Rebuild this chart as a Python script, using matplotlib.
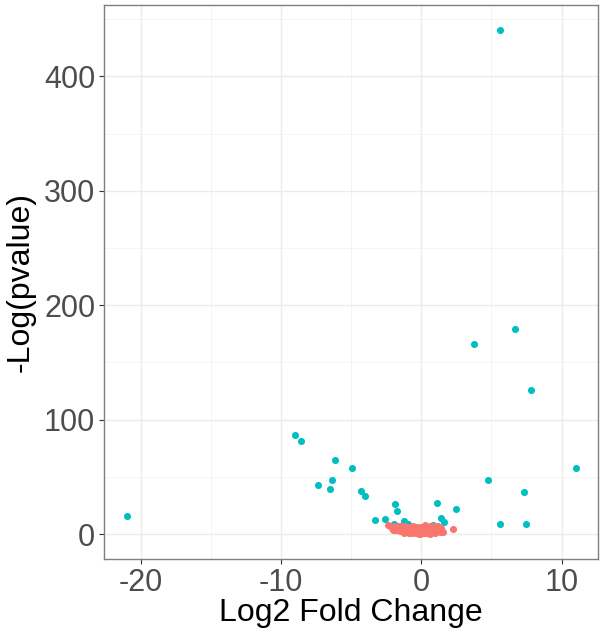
import matplotlib
matplotlib.use("Agg")
import matplotlib.pyplot as plt
from matplotlib.ticker import MultipleLocator

# significant genes (teal) and the non-significant cloud around zero (salmon)
sig_lfc = [5.60, 3.76, 6.67, 7.80, 11.00, 4.75, 7.30, 5.60, 7.45, -21.00,
           -9.00, -8.56, -6.12, -4.97, -7.38, -6.33, -6.50, -4.33, -4.04,
           -3.31, -2.60, -1.89, -1.73, -1.93, -1.21, -0.97, 0.83, 1.09,
           1.39, 1.61, 2.50]
sig_p = [440.6, 165.7, 179.5, 126.0, 58.0, 47.0, 37.0, 9.0, 9.0, 16.0,
         86.9, 81.0, 64.6, 57.4, 42.8, 47.2, 39.3, 37.8, 33.5,
         12.0, 13.4, 26.5, 20.4, 8.4, 11.0, 8.7, 8.1, 26.8,
         14.3, 10.8, 21.6]

ns_lfc = [-2.36, -2.15, -1.95, -1.90, -1.75, -1.70, -1.60, -1.55, -1.50, -1.42,
          -1.38, -1.30, -1.25, -1.20, -1.15, -1.10, -1.05, -1.00, -0.95, -0.90,
          -0.86, -0.80, -0.76, -0.70, -0.66, -0.62, -0.58, -0.52, -0.48, -0.44,
          -0.40, -0.36, -0.32, -0.27, -0.22, -0.18, -0.14, -0.10, -0.06, -0.02,
          0.02, 0.06, 0.10, 0.14, 0.18, 0.22, 0.26, 0.30, 0.35, 0.40,
          0.44, 0.48, 0.52, 0.56, 0.60, 0.65, 0.70, 0.74, 0.78, 0.82,
          0.87, 0.92, 0.96, 1.00, 1.05, 1.10, 1.15, 1.20, 1.28, 1.35,
          1.40, 1.48, 1.55, 2.27, -1.85, -2.00, -0.30, 0.00, -0.60, 0.30,
          1.00, -1.20, 0.60, -0.90]
ns_p = [7.9, 6.5, 7.2, 4.8, 5.9, 3.9, 6.8, 2.9, 5.1, 7.4,
        3.6, 5.8, 2.2, 4.4, 6.9, 3.1, 1.6, 5.2, 2.6, 4.0,
        6.1, 1.9, 3.3, 5.0, 0.9, 2.4, 4.3, 1.4, 3.0, 5.6,
        0.6, 2.0, 3.7, 1.1, 2.7, 0.4, 1.7, 3.4, 0.2, 1.3,
        2.4, 0.5, 1.8, 4.1, 0.8, 2.9, 5.3, 1.2, 3.5, 0.7,
        2.2, 6.0, 1.5, 4.6, 2.8, 6.8, 1.9, 3.9, 5.7, 2.5,
        7.3, 4.2, 1.8, 6.2, 3.2, 5.0, 2.3, 7.0, 4.1, 2.1,
        5.5, 3.0, 1.4, 4.4, 3.2, 3.4, 6.4, 5.9, 7.0, 7.6,
        0.9, 0.9, 0.3, 0.5]

plt.rcParams["font.family"] = ["Liberation Sans", "DejaVu Sans"]
plt.rcParams["axes.unicode_minus"] = False

fig = plt.figure(figsize=(6.01, 6.31), dpi=100)
ax = fig.add_axes([0.1735, 0.1141, 0.8215, 0.8785])

ax.scatter(sig_lfc, sig_p, s=26, color="#00BFC4", linewidths=0, zorder=3)
ax.scatter(ns_lfc, ns_p, s=26, color="#F8766D", linewidths=0, zorder=3)

ax.margins(0.05)
ax.xaxis.set_major_locator(MultipleLocator(10))
ax.xaxis.set_minor_locator(MultipleLocator(5))
ax.yaxis.set_major_locator(MultipleLocator(100))
ax.yaxis.set_minor_locator(MultipleLocator(50))

ax.set_axisbelow(True)
ax.grid(which="major", color="#EBEBEB", linewidth=1.0)
ax.grid(which="minor", color="#F2F2F2", linewidth=0.6)
for sp in ax.spines.values():
    sp.set_color("#7F7F7F")
    sp.set_linewidth(1.0)

ax.tick_params(which="major", length=3.5, width=0.8, color="#333333",
               labelsize=22, labelcolor="#4D4D4D", pad=3)
ax.tick_params(which="minor", length=0)

ax.set_xlabel("Log2 Fold Change", fontsize=23, color="black", labelpad=0)
ax.set_ylabel("-Log(pvalue)", fontsize=23, color="black", labelpad=6)

fig.savefig("out.png", dpi=100)
